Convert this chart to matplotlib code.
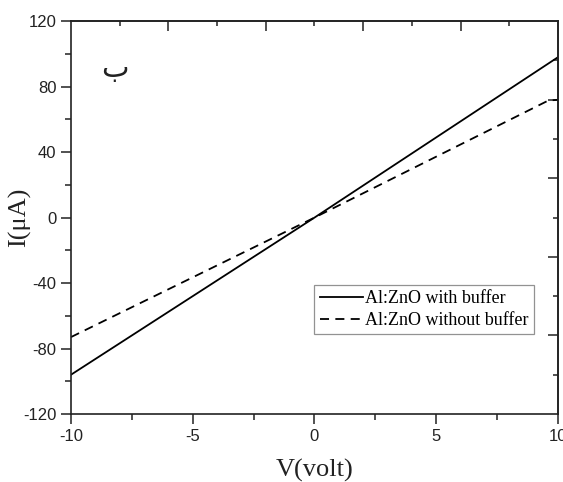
import matplotlib
matplotlib.use("Agg")
import matplotlib.pyplot as plt
from matplotlib.ticker import MultipleLocator, FixedLocator, NullFormatter

# I-V curves
v_buffer = [-10, 0, 10]
i_buffer = [-96, 0, 98]
v_nobuffer = [-10, 0, 9.6, 10]
i_nobuffer = [-73, 0, 71.5, 72]
labels = ["Al:ZnO with buffer", "Al:ZnO without buffer"]

# mirror axes (top/right) carry their own tick grid
top_major = [-6, -2, 2, 6]
top_minor = [-8, -4, 0, 4, 8]
right_major = [-72, -24, 24, 72]
right_minor = [-96, -48, 0, 48, 96]

SERIF = "Liberation Serif"
SANS = "Liberation Sans"
INK = "#222222"

plt.rcParams["axes.unicode_minus"] = False

fig = plt.figure(figsize=(5.63, 4.82), dpi=100, facecolor="white")
ax = fig.add_axes([0.126, 0.141, 0.865, 0.815])

ax.plot(v_buffer, i_buffer, color="black", lw=1.3, ls="-", label=labels[0])
ax.plot(v_nobuffer, i_nobuffer, color="black", lw=1.3, ls=(0, (5, 3.5)), label=labels[1])

ax.set_xlim(-10, 10)
ax.set_ylim(-120, 120)
ax.xaxis.set_major_locator(MultipleLocator(5))
ax.xaxis.set_minor_locator(MultipleLocator(2.5))
ax.yaxis.set_major_locator(MultipleLocator(40))
ax.yaxis.set_minor_locator(MultipleLocator(20))
ax.tick_params(which="major", direction="out", length=7, width=1.1, color=INK,
               labelsize=12, labelcolor=INK, top=False, right=False)
ax.tick_params(which="minor", direction="out", length=4, width=1.1, color=INK,
               top=False, right=False)
for lab in ax.get_xticklabels() + ax.get_yticklabels():
    lab.set_fontfamily(SANS)
for sp in ax.spines.values():
    sp.set_linewidth(1.2)
    sp.set_color(INK)

sec_x = ax.secondary_xaxis("top")
sec_x.xaxis.set_major_locator(FixedLocator(top_major))
sec_x.xaxis.set_minor_locator(FixedLocator(top_minor))
sec_x.xaxis.set_major_formatter(NullFormatter())
sec_x.tick_params(which="major", direction="in", length=7, width=1.1, color=INK)
sec_x.tick_params(which="minor", direction="in", length=3.5, width=1.1, color=INK)
sec_x.spines["top"].set_linewidth(1.2)
sec_x.spines["top"].set_color(INK)

sec_y = ax.secondary_yaxis("right")
sec_y.yaxis.set_major_locator(FixedLocator(right_major))
sec_y.yaxis.set_minor_locator(FixedLocator(right_minor))
sec_y.yaxis.set_major_formatter(NullFormatter())
sec_y.tick_params(which="major", direction="in", length=7, width=1.1, color=INK)
sec_y.tick_params(which="minor", direction="in", length=3.5, width=1.1, color=INK)
sec_y.spines["right"].set_linewidth(1.2)
sec_y.spines["right"].set_color(INK)

ax.set_xlabel("V(volt)", fontsize=19, family=SERIF, color=INK, labelpad=11)
ax.set_ylabel("I(\u03bcA)", fontsize=19, family=SERIF, color=INK)
ax.yaxis.set_label_coords(-0.082, 0.5)

ax.text(-8.2, 91, "\u0628", fontsize=21, family=["DejaVu Sans"], color=INK,
        ha="center", va="center")

leg = ax.legend(loc="lower right", bbox_to_anchor=(0.95, 0.203),
                prop={"family": SERIF, "size": 13}, frameon=True, fancybox=False,
                handlelength=2.4, handletextpad=0.1, borderpad=0.3, labelspacing=0.25,
                borderaxespad=0)
leg.get_frame().set_edgecolor("#777777")
leg.get_frame().set_linewidth(0.9)

fig.savefig("out.png", dpi=100, facecolor="white")
